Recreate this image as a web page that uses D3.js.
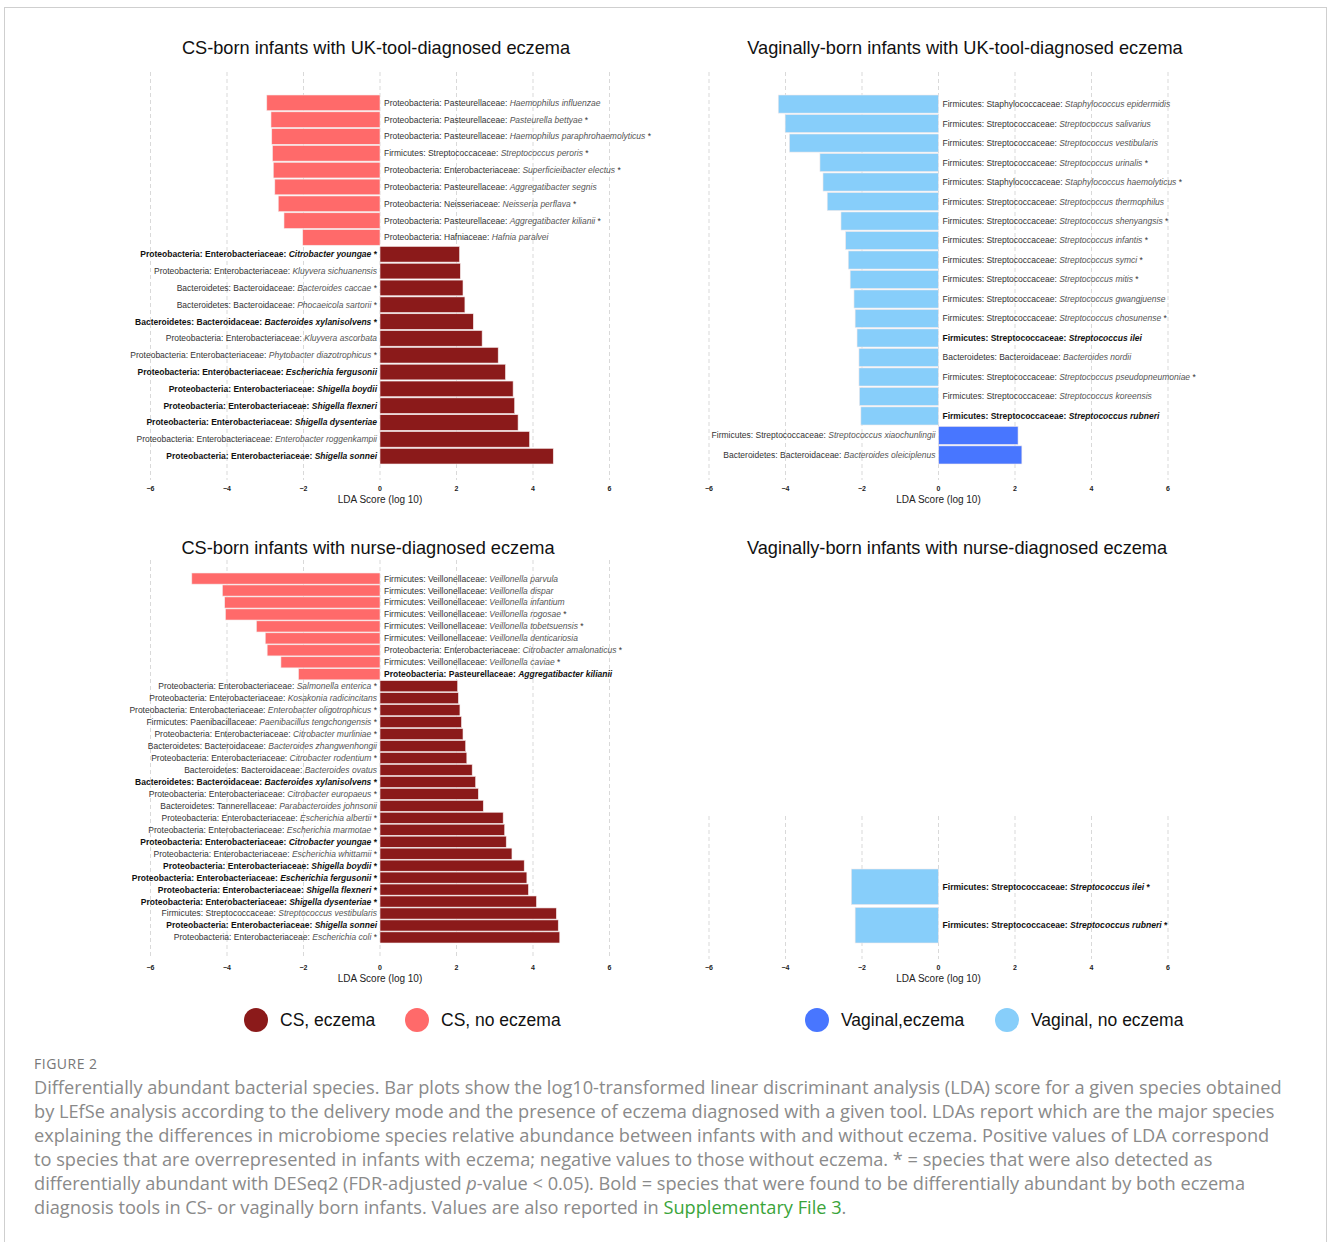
<!DOCTYPE html>
<html>
<head>
<meta charset="utf-8">
<title>LEfSe LDA scores</title>
<script src="https://d3js.org/d3.v7.min.js"></script>
<style>
  body { margin: 0; background: #fff; }
  svg { display: block; }
</style>
</head>
<body>
<div id="fig"></div>
<script>
// ---- data ----
// CS-born, UK tool
const csUkTaxa = [
  "Proteobacteria: Pasteurellaceae: Haemophilus influenzae",
  "Proteobacteria: Pasteurellaceae: Pasteurella bettyae *",
  "Proteobacteria: Pasteurellaceae: Haemophilus paraphrohaemolyticus *",
  "Firmicutes: Streptococcaceae: Streptococcus peroris *",
  "Proteobacteria: Enterobacteriaceae: Superficieibacter electus *",
  "Proteobacteria: Pasteurellaceae: Aggregatibacter segnis",
  "Proteobacteria: Neisseriaceae: Neisseria perflava *",
  "Proteobacteria: Pasteurellaceae: Aggregatibacter kilianii *",
  "Proteobacteria: Hafniaceae: Hafnia paralvei",
  "Proteobacteria: Enterobacteriaceae: Citrobacter youngae *",
  "Proteobacteria: Enterobacteriaceae: Kluyvera sichuanensis",
  "Bacteroidetes: Bacteroidaceae: Bacteroides caccae *",
  "Bacteroidetes: Bacteroidaceae: Phocaeicola sartorii *",
  "Bacteroidetes: Bacteroidaceae: Bacteroides xylanisolvens *",
  "Proteobacteria: Enterobacteriaceae: Kluyvera ascorbata",
  "Proteobacteria: Enterobacteriaceae: Phytobacter diazotrophicus *",
  "Proteobacteria: Enterobacteriaceae: Escherichia fergusonii",
  "Proteobacteria: Enterobacteriaceae: Shigella boydii",
  "Proteobacteria: Enterobacteriaceae: Shigella flexneri",
  "Proteobacteria: Enterobacteriaceae: Shigella dysenteriae",
  "Proteobacteria: Enterobacteriaceae: Enterobacter roggenkampii",
  "Proteobacteria: Enterobacteriaceae: Shigella sonnei"
];
const csUkLda = [-2.96, -2.85, -2.83, -2.81, -2.79, -2.75, -2.66, -2.51, -2.02,
  2.08, 2.10, 2.17, 2.22, 2.44, 2.67, 3.09, 3.28, 3.48, 3.52, 3.61, 3.91, 4.53];
const csUkBold = [0,0,0,0,0,0,0,0,0, 1,0,0,0,1,0,0,1,1,1,1,0,1];

// Vaginally-born, UK tool
const vagUkTaxa = [
  "Firmicutes: Staphylococcaceae: Staphylococcus epidermidis",
  "Firmicutes: Streptococcaceae: Streptococcus salivarius",
  "Firmicutes: Streptococcaceae: Streptococcus vestibularis",
  "Firmicutes: Streptococcaceae: Streptococcus urinalis *",
  "Firmicutes: Staphylococcaceae: Staphylococcus haemolyticus *",
  "Firmicutes: Streptococcaceae: Streptococcus thermophilus",
  "Firmicutes: Streptococcaceae: Streptococcus shenyangsis *",
  "Firmicutes: Streptococcaceae: Streptococcus infantis *",
  "Firmicutes: Streptococcaceae: Streptococcus symci *",
  "Firmicutes: Streptococcaceae: Streptococcus mitis *",
  "Firmicutes: Streptococcaceae: Streptococcus gwangjuense",
  "Firmicutes: Streptococcaceae: Streptococcus chosunense *",
  "Firmicutes: Streptococcaceae: Streptococcus ilei",
  "Bacteroidetes: Bacteroidaceae: Bacteroides nordii",
  "Firmicutes: Streptococcaceae: Streptococcus pseudopneumoniae *",
  "Firmicutes: Streptococcaceae: Streptococcus koreensis",
  "Firmicutes: Streptococcaceae: Streptococcus rubneri",
  "Firmicutes: Streptococcaceae: Streptococcus xiaochunlingii",
  "Bacteroidetes: Bacteroidaceae: Bacteroides oleiciplenus"
];
const vagUkLda = [-4.19, -4.01, -3.90, -3.10, -3.02, -2.91, -2.55, -2.43, -2.36, -2.31,
  -2.21, -2.18, -2.13, -2.08, -2.08, -2.07, -2.03, 2.08, 2.18];
const vagUkBold = [0,0,0,0,0,0,0,0,0,0,0,0,1,0,0,0,1,0,0];

// CS-born, nurse
const csNurseTaxa = [
  "Firmicutes: Veillonellaceae: Veillonella parvula",
  "Firmicutes: Veillonellaceae: Veillonella dispar",
  "Firmicutes: Veillonellaceae: Veillonella infantium",
  "Firmicutes: Veillonellaceae: Veillonella rogosae *",
  "Firmicutes: Veillonellaceae: Veillonella tobetsuensis *",
  "Firmicutes: Veillonellaceae: Veillonella denticariosia",
  "Proteobacteria: Enterobacteriaceae: Citrobacter amalonaticus *",
  "Firmicutes: Veillonellaceae: Veillonella caviae *",
  "Proteobacteria: Pasteurellaceae: Aggregatibacter kilianii",
  "Proteobacteria: Enterobacteriaceae: Salmonella enterica *",
  "Proteobacteria: Enterobacteriaceae: Kosakonia radicincitans",
  "Proteobacteria: Enterobacteriaceae: Enterobacter oligotrophicus *",
  "Firmicutes: Paenibacillaceae: Paenibacillus tengchongensis *",
  "Proteobacteria: Enterobacteriaceae: Citrobacter murliniae *",
  "Bacteroidetes: Bacteroidaceae: Bacteroides zhangwenhongii",
  "Proteobacteria: Enterobacteriaceae: Citrobacter rodentium *",
  "Bacteroidetes: Bacteroidaceae: Bacteroides ovatus",
  "Bacteroidetes: Bacteroidaceae: Bacteroides xylanisolvens *",
  "Proteobacteria: Enterobacteriaceae: Citrobacter europaeus *",
  "Bacteroidetes: Tannerellaceae: Parabacteroides johnsonii",
  "Proteobacteria: Enterobacteriaceae: Escherichia albertii *",
  "Proteobacteria: Enterobacteriaceae: Escherichia marmotae *",
  "Proteobacteria: Enterobacteriaceae: Citrobacter youngae *",
  "Proteobacteria: Enterobacteriaceae: Escherichia whittamii *",
  "Proteobacteria: Enterobacteriaceae: Shigella boydii *",
  "Proteobacteria: Enterobacteriaceae: Escherichia fergusonii *",
  "Proteobacteria: Enterobacteriaceae: Shigella flexneri *",
  "Proteobacteria: Enterobacteriaceae: Shigella dysenteriae *",
  "Firmicutes: Streptococcaceae: Streptococcus vestibularis",
  "Proteobacteria: Enterobacteriaceae: Shigella sonnei",
  "Proteobacteria: Enterobacteriaceae: Escherichia coli *"
];
const csNurseLda = [-4.92, -4.12, -4.06, -4.04, -3.23, -3.00, -2.95, -2.59, -2.13,
  2.03, 2.05, 2.09, 2.13, 2.17, 2.24, 2.27, 2.41, 2.50, 2.57, 2.70, 3.22,
  3.26, 3.30, 3.45, 3.77, 3.84, 3.88, 4.09, 4.61, 4.66, 4.70];
const csNurseBold = [0,0,0,0,0,0,0,0,1, 0,0,0,0,0,0,0,0,1,0,0,0, 0,1,0,1,1,1,1,0,1,0];

// Vaginally-born, nurse
const vagNurseTaxa = [
  "Firmicutes: Streptococcaceae: Streptococcus ilei *",
  "Firmicutes: Streptococcaceae: Streptococcus rubneri *"
];
const vagNurseLda = [-2.28, -2.18];
const vagNurseBold = [1, 1];

const ticks = [-6, -4, -2, 0, 2, 4, 6];
const legendCs = [["CS, eczema", "#8b1a1a"], ["CS, no eczema", "#ff6a6a"]];
const legendVag = [["Vaginal,eczema", "#4876ff"], ["Vaginal, no eczema", "#87cefa"]];

const captionLines = [
  "Differentially abundant bacterial species. Bar plots show the log10-transformed linear discriminant analysis (LDA) score for a given species obtained",
  "by LEfSe analysis according to the delivery mode and the presence of eczema diagnosed with a given tool. LDAs report which are the major species",
  "explaining the differences in microbiome species relative abundance between infants with and without eczema. Positive values of LDA correspond",
  "to species that are overrepresented in infants with eczema; negative values to those without eczema. * = species that were also detected as",
  "differentially abundant with DESeq2 (FDR-adjusted |p|-value < 0.05). Bold = species that were found to be differentially abundant by both eczema",
  "diagnosis tools in CS- or vaginally born infants. Values are also reported in {Supplementary File 3}."
];

// ---- drawing ----
const W = 1328, H = 1242;
const svg = d3.select("#fig").append("svg").attr("width", W).attr("height", H)
  .style("font-family", "'Liberation Sans', Arial, sans-serif");

svg.append("rect").attr("x", 4.5).attr("y", 7.5).attr("width", 1322).attr("height", 1250)
  .attr("fill", "none").attr("stroke", "#cfcfcf").attr("stroke-width", 1);

function drawPanel(cfg) {
  const g = svg.append("g");
  const x = d3.scaleLinear().domain([-6, 6]).range([cfg.zero - 6 * 38.25, cfg.zero + 6 * 38.25]);
  const y = d3.scaleBand().domain(d3.range(cfg.taxa.length))
    .range([cfg.barTop, cfg.barBottom]).paddingInner(0.07).paddingOuter(0);

  g.append("text").attr("x", cfg.titleX).attr("y", cfg.titleY)
    .attr("text-anchor", "middle").attr("font-size", 18.2).attr("fill", "#111")
    .text(cfg.title);

  g.selectAll("line.grid").data(ticks).join("line")
    .attr("class", "grid")
    .attr("x1", d => x(d)).attr("x2", d => x(d))
    .attr("y1", cfg.gridTop).attr("y2", cfg.gridBottom)
    .attr("stroke", "#d9d9d9").attr("stroke-dasharray", "4,3").attr("stroke-width", 1);

  g.selectAll("rect.bar").data(cfg.lda).join("rect")
    .attr("class", "bar")
    .attr("x", d => x(Math.min(0, d)))
    .attr("width", d => Math.abs(x(d) - x(0)))
    .attr("y", (d, i) => y(i))
    .attr("height", y.bandwidth())
    .attr("fill", d => d < 0 ? cfg.negColor : cfg.posColor)
    .attr("stroke", "#f4eaea").attr("stroke-width", 0.6);

  const labels = g.selectAll("text.lab").data(cfg.taxa).join("text")
    .attr("class", "lab")
    .attr("x", (d, i) => cfg.lda[i] < 0 ? x(0) + 4 : x(0) - 3)
    .attr("y", (d, i) => y(i) + y.bandwidth() / 2)
    .attr("dy", "0.35em")
    .attr("text-anchor", (d, i) => cfg.lda[i] < 0 ? "start" : "end")
    .attr("font-size", cfg.labelSize)
    .attr("font-weight", (d, i) => cfg.bold[i] ? "bold" : "normal");

  labels.each(function(d, i) {
    const star = d.endsWith(" *");
    const base = star ? d.slice(0, -2) : d;
    const parts = base.split(": ");
    const species = parts.pop();
    const t = d3.select(this);
    const dark = cfg.bold[i] ? "#111" : "#333";
    t.append("tspan").attr("fill", dark).text(parts.join(": ") + ": ");
    t.append("tspan").attr("font-style", "italic").attr("fill", cfg.bold[i] ? "#111" : "#555").text(species);
    if (star) t.append("tspan").attr("fill", dark).text(" *");
  });

  g.selectAll("text.tick").data(ticks).join("text")
    .attr("class", "tick")
    .attr("x", d => x(d)).attr("y", cfg.tickY)
    .attr("text-anchor", "middle").attr("font-size", 7).attr("font-weight", "bold")
    .attr("fill", "#222")
    .text(d => d < 0 ? "\u2212" + Math.abs(d) : d);

  g.append("text").attr("x", x(0)).attr("y", cfg.tickY + 12)
    .attr("text-anchor", "middle").attr("font-size", 10).attr("fill", "#222")
    .text("LDA Score (log 10)");
}

drawPanel({ title: "CS-born infants with UK-tool-diagnosed eczema", titleX: 376, titleY: 54,
  taxa: csUkTaxa, lda: csUkLda, bold: csUkBold, zero: 380,
  barTop: 95, barBottom: 464, gridTop: 72, gridBottom: 480, tickY: 491,
  negColor: "#ff6a6a", posColor: "#8b1a1a", labelSize: 8.5 });

drawPanel({ title: "Vaginally-born infants with UK-tool-diagnosed eczema", titleX: 965, titleY: 54,
  taxa: vagUkTaxa, lda: vagUkLda, bold: vagUkBold, zero: 938.5,
  barTop: 95, barBottom: 464, gridTop: 72, gridBottom: 480, tickY: 491,
  negColor: "#87cefa", posColor: "#4876ff", labelSize: 8.5 });

drawPanel({ title: "CS-born infants with nurse-diagnosed eczema", titleX: 368, titleY: 554,
  taxa: csNurseTaxa, lda: csNurseLda, bold: csNurseBold, zero: 380,
  barTop: 573, barBottom: 943, gridTop: 560, gridBottom: 959, tickY: 970,
  negColor: "#ff6a6a", posColor: "#8b1a1a", labelSize: 8.5 });

drawPanel({ title: "Vaginally-born infants with nurse-diagnosed eczema", titleX: 957, titleY: 554,
  taxa: vagNurseTaxa, lda: vagNurseLda, bold: vagNurseBold, zero: 938.5,
  barTop: 869, barBottom: 943, gridTop: 816, gridBottom: 959, tickY: 970,
  negColor: "#87cefa", posColor: "#4876ff", labelSize: 8.6 });

// legends
function drawLegend(items, xs) {
  items.forEach((it, i) => {
    svg.append("circle").attr("cx", xs[i]).attr("cy", 1020).attr("r", 12).attr("fill", it[1]);
    svg.append("text").attr("x", xs[i] + 24).attr("y", 1020).attr("dy", "0.35em")
      .attr("font-size", 17.5).attr("fill", "#111").text(it[0]);
  });
}
drawLegend(legendCs, [256, 417]);
drawLegend(legendVag, [817, 1007]);

// caption
svg.append("text").attr("x", 34).attr("y", 1069).attr("font-size", 14)
  .attr("fill", "#777").attr("letter-spacing", 0.5)
  .style("font-family", "'Open Sans', sans-serif").text("FIGURE 2");

const cap = svg.append("g").style("font-family", "'Open Sans', sans-serif")
  .attr("font-size", 18.2).attr("fill", "#8a8a8a");
captionLines.forEach((line, i) => {
  const t = cap.append("text").attr("x", 34).attr("y", 1094 + i * 24);
  // |x| = italic, {x} = link
  line.split(/(\|[^|]+\||\{[^}]+\})/).forEach(seg => {
    if (!seg) return;
    if (seg.startsWith("|")) t.append("tspan").attr("font-style", "italic").text(seg.slice(1, -1));
    else if (seg.startsWith("{")) t.append("tspan").attr("fill", "#3aa43a").text(seg.slice(1, -1));
    else t.append("tspan").text(seg);
  });
});
</script>
</body>
</html>
